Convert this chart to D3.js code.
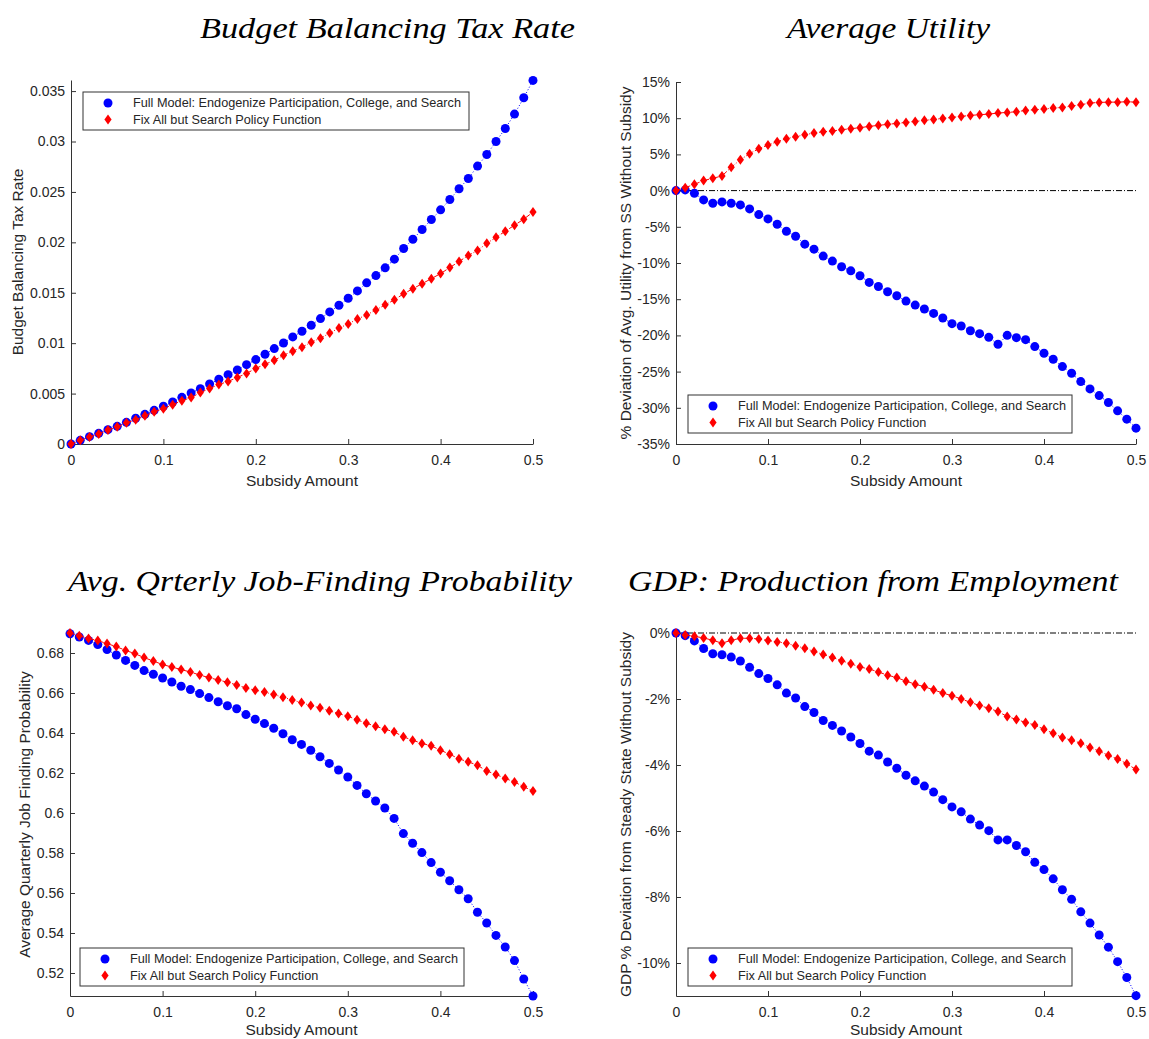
<!DOCTYPE html>
<html>
<head>
<meta charset="utf-8">
<script src="https://cdn.jsdelivr.net/npm/d3@7"></script>
<style>
  body { margin: 0; background: #fff; }
  text { font-family: "Liberation Sans", Arial, Helvetica, sans-serif; fill: #262626; }
  .title { font-family: "Liberation Serif", "DejaVu Serif", serif; font-style: italic; fill: #000; }
</style>
</head>
<body>
<div id="chart"></div>
<script>
var width_chart = 1149,
    height_chart = 1039;

// subsidy amounts (x axis of every panel)
var subsidy = [0, 0.01, 0.02, 0.03, 0.04, 0.05, 0.06, 0.07, 0.08, 0.09,
  0.10, 0.11, 0.12, 0.13, 0.14, 0.15, 0.16, 0.17, 0.18, 0.19,
  0.20, 0.21, 0.22, 0.23, 0.24, 0.25, 0.26, 0.27, 0.28, 0.29,
  0.30, 0.31, 0.32, 0.33, 0.34, 0.35, 0.36, 0.37, 0.38, 0.39,
  0.40, 0.41, 0.42, 0.43, 0.44, 0.45, 0.46, 0.47, 0.48, 0.49, 0.50];

var series_names = ["Full Model: Endogenize Participation, College, and Search",
                    "Fix All but Search Policy Function"];

// Budget balancing tax rate
var tax_full = [0, 0.00036, 0.00073, 0.00106, 0.00142, 0.00175, 0.00215, 0.00255, 0.00294, 0.00334,
  0.00374, 0.00417, 0.00463, 0.00506, 0.00549, 0.00595, 0.00642, 0.00688, 0.00734, 0.00787,
  0.00837, 0.00890, 0.00946, 0.01002, 0.01062, 0.01118, 0.01178, 0.01244, 0.01310, 0.01376,
  0.01446, 0.01518, 0.01598, 0.01670, 0.01747, 0.01833, 0.01939, 0.02031, 0.02127, 0.02226,
  0.02322, 0.02425, 0.02531, 0.02633, 0.02756, 0.02871, 0.03000, 0.03129, 0.03272, 0.03434, 0.03606];
var tax_fix = [0, 0.00036, 0.0007, 0.0010, 0.0014, 0.0017, 0.0021, 0.0024, 0.0028, 0.0032,
  0.0035, 0.0039, 0.0043, 0.0046, 0.0051, 0.0055, 0.0059, 0.0062, 0.0066, 0.0070,
  0.0075, 0.0079, 0.0083, 0.0088, 0.0092, 0.0096, 0.0101, 0.0105, 0.0110, 0.0115,
  0.0119, 0.0124, 0.0128, 0.0133, 0.0138, 0.0143, 0.0149, 0.0154, 0.0159, 0.0164,
  0.0169, 0.0175, 0.0181, 0.0187, 0.0192, 0.0199, 0.0205, 0.0211, 0.0217, 0.0223, 0.0230];

// Average utility, % deviation
var util_full = [0, 0.1, -0.37, -1.29, -1.75, -1.56, -1.75, -1.98, -2.53, -3.31,
  -3.91, -4.64, -5.61, -6.30, -7.40, -8.09, -9.05, -9.74, -10.52, -11.08,
  -11.76, -12.68, -13.24, -13.97, -14.52, -15.26, -15.81, -16.36, -16.96, -17.60,
  -18.38, -18.70, -19.35, -19.76, -20.27, -21.23, -19.99, -20.31, -20.59, -21.55,
  -22.47, -23.30, -24.31, -25.23, -26.38, -27.39, -28.31, -29.27, -30.42, -31.57, -32.81];
var util_fix = [0, 0.41, 0.87, 1.38, 1.70, 2.02, 3.22, 4.27, 5.10, 5.79,
  6.30, 6.76, 7.17, 7.44, 7.72, 7.95, 8.13, 8.23, 8.41, 8.55,
  8.69, 8.87, 9.01, 9.15, 9.28, 9.42, 9.56, 9.70, 9.83, 9.97,
  10.11, 10.25, 10.39, 10.48, 10.57, 10.71, 10.80, 10.89, 11.08, 11.17,
  11.26, 11.40, 11.49, 11.67, 11.86, 12.09, 12.18, 12.22, 12.22, 12.27, 12.22];

// Avg quarterly job finding probability
var jf_full = [0.6896, 0.6880, 0.6863, 0.6842, 0.6817, 0.6790, 0.6763, 0.6738, 0.6712, 0.6694,
  0.6675, 0.6655, 0.6634, 0.6617, 0.6597, 0.6577, 0.6556, 0.6536, 0.6521, 0.6492,
  0.6469, 0.6447, 0.6424, 0.6396, 0.6366, 0.6343, 0.6314, 0.6281, 0.6248, 0.6215,
  0.6180, 0.6138, 0.6096, 0.6060, 0.6025, 0.5973, 0.5897, 0.5849, 0.5802, 0.5752,
  0.5704, 0.5661, 0.5616, 0.5571, 0.5504, 0.5450, 0.5388, 0.5330, 0.5262, 0.5170, 0.5085];
var jf_fix = [0.6900, 0.6886, 0.6873, 0.6862, 0.6847, 0.6832, 0.6813, 0.6797, 0.6777, 0.6760,
  0.6742, 0.6730, 0.6717, 0.6705, 0.6690, 0.6677, 0.6665, 0.6654, 0.6640, 0.6625,
  0.6614, 0.6605, 0.6592, 0.6579, 0.6565, 0.6552, 0.6537, 0.6526, 0.6511, 0.6497,
  0.6484, 0.6466, 0.6449, 0.6434, 0.6419, 0.6406, 0.6381, 0.6364, 0.6348, 0.6336,
  0.6314, 0.6294, 0.6271, 0.6256, 0.6239, 0.6210, 0.6193, 0.6173, 0.6155, 0.6131, 0.6110];

// GDP % deviation
var gdp_full = [0, -0.08, -0.24, -0.47, -0.63, -0.66, -0.73, -0.85, -1.04, -1.23,
  -1.38, -1.57, -1.82, -1.97, -2.23, -2.41, -2.65, -2.80, -2.97, -3.15,
  -3.35, -3.58, -3.70, -3.91, -4.10, -4.31, -4.48, -4.64, -4.82, -5.05,
  -5.27, -5.42, -5.64, -5.82, -5.99, -6.27, -6.27, -6.44, -6.63, -6.95,
  -7.17, -7.45, -7.78, -8.07, -8.45, -8.79, -9.15, -9.52, -9.96, -10.44, -10.99];
var gdp_fix = [0, -0.06, -0.10, -0.15, -0.22, -0.31, -0.22, -0.16, -0.16, -0.18,
  -0.23, -0.27, -0.31, -0.39, -0.46, -0.56, -0.65, -0.74, -0.84, -0.93,
  -1.03, -1.09, -1.18, -1.28, -1.35, -1.46, -1.55, -1.63, -1.72, -1.82,
  -1.90, -2.00, -2.10, -2.20, -2.28, -2.38, -2.53, -2.62, -2.71, -2.79,
  -2.92, -3.04, -3.17, -3.25, -3.34, -3.47, -3.58, -3.71, -3.82, -3.96, -4.14];

// tick labels
var x_ticks = [0, 0.1, 0.2, 0.3, 0.4, 0.5];
var tax_ticks = [0, 0.005, 0.01, 0.015, 0.02, 0.025, 0.03, 0.035];
var util_ticks = [-35, -30, -25, -20, -15, -10, -5, 0, 5, 10, 15];
var jf_ticks = [0.52, 0.54, 0.56, 0.58, 0.6, 0.62, 0.64, 0.66, 0.68];
var gdp_ticks = [-10, -8, -6, -4, -2, 0];

var svg = d3.select("#chart").append("svg")
    .attr("width", width_chart)
    .attr("height", height_chart);

var num_fmt = function(d) { return d === 0 ? "0" : String(+d.toFixed(3)); };
var pct_fmt = function(d) { return d + "%"; };

var panels = [
  { title: "Budget Balancing Tax Rate", tx: 200, tw: 375, ty: 38,
    left: 71, right: 533, top: 80, bottom: 444, ydom: [0, 0.0361],
    full: tax_full, fix: tax_fix, yticks: tax_ticks, yfmt: num_fmt,
    ylabel: "Budget Balancing Tax Rate", ylx: 18, xlab: 42, zero: false,
    leg: { x: 83, y: 92, w: 386, h: 38 } },
  { title: "Average Utility", tx: 787, tw: 203, ty: 38,
    left: 676, right: 1136, top: 82, bottom: 444, ydom: [-35, 15],
    full: util_full, fix: util_fix, yticks: util_ticks, yfmt: pct_fmt,
    ylabel: "% Deviation of Avg. Utility from SS Without Subsidy", ylx: 626, xlab: 42, zero: true,
    leg: { x: 688, y: 395, w: 384, h: 38 } },
  { title: "Avg. Qrterly Job-Finding Probability", tx: 68, tw: 504, ty: 591,
    left: 70, right: 533, top: 633, bottom: 996, ydom: [0.5085, 0.69],
    full: jf_full, fix: jf_fix, yticks: jf_ticks, yfmt: num_fmt,
    ylabel: "Average Quarterly Job Finding Probability", ylx: 25, xlab: 39, zero: false,
    leg: { x: 80, y: 948, w: 384, h: 38 } },
  { title: "GDP: Production from Employment", tx: 628, tw: 490, ty: 591,
    left: 676, right: 1136, top: 633, bottom: 996, ydom: [-11, 0],
    full: gdp_full, fix: gdp_fix, yticks: gdp_ticks, yfmt: pct_fmt,
    ylabel: "GDP % Deviation from Steady State Without Subsidy", ylx: 626, xlab: 39, zero: true,
    leg: { x: 688, y: 948, w: 384, h: 38 } }
];

var diamond = "M0,-5L3.6,0L0,5L-3.6,0Z";

panels.forEach(function(p) {
  var x = d3.scaleLinear().domain([0, 0.5]).range([p.left, p.right]);
  var y = d3.scaleLinear().domain(p.ydom).range([p.bottom, p.top]);
  var g = svg.append("g");

  // title
  g.append("text")
    .attr("class", "title")
    .attr("x", p.tx)
    .attr("y", p.ty)
    .attr("textLength", p.tw)
    .attr("lengthAdjust", "spacingAndGlyphs")
    .style("font-size", "29px")
    .text(p.title);

  // axes (ticks point inward, like matlab)
  var xAxis = g.append("g")
    .attr("transform", "translate(0," + p.bottom + ")")
    .call(d3.axisBottom(x).tickValues(x_ticks).tickSizeInner(-5).tickSizeOuter(0)
      .tickPadding(11).tickFormat(function(d) { return d === 0 ? "0" : String(d); }));
  var yAxis = g.append("g")
    .attr("transform", "translate(" + p.left + ",0)")
    .call(d3.axisLeft(y).tickValues(p.yticks).tickSizeInner(-5).tickSizeOuter(0)
      .tickPadding(6).tickFormat(p.yfmt));
  [xAxis, yAxis].forEach(function(a) {
    a.select(".domain").attr("stroke", "#333").attr("stroke-width", 1);
    a.selectAll(".tick line").attr("stroke", "#333");
    a.selectAll(".tick text").style("font-size", "14px").style("fill", "#262626")
      .style("font-family", "'Liberation Sans', Arial, sans-serif");
  });

  // axis labels
  g.append("text")
    .attr("x", (p.left + p.right) / 2)
    .attr("y", p.bottom + p.xlab)
    .attr("text-anchor", "middle")
    .style("font-size", "15.5px")
    .text("Subsidy Amount");
  g.append("text")
    .attr("transform", "translate(" + p.ylx + "," + ((p.top + p.bottom) / 2) + ") rotate(-90)")
    .attr("text-anchor", "middle")
    .attr("dy", "0.35em")
    .style("font-size", "15.5px")
    .text(p.ylabel);

  // zero reference line
  if (p.zero) {
    g.append("line")
      .attr("x1", x(0)).attr("x2", x(0.5))
      .attr("y1", y(0)).attr("y2", y(0))
      .attr("stroke", "#000")
      .attr("stroke-width", 1)
      .attr("stroke-dasharray", "6,2,1,2");
  }

  var line = d3.line()
    .x(function(d, i) { return x(subsidy[i]); })
    .y(function(d) { return y(d); });

  // full model: blue dotted line with circles
  g.append("path")
    .datum(p.full)
    .attr("d", line)
    .attr("fill", "none")
    .attr("stroke", "#0000ff")
    .attr("stroke-width", 1)
    .attr("stroke-dasharray", "1,2");
  g.selectAll("circle.full")
    .data(p.full)
    .enter().append("circle")
    .attr("class", "full")
    .attr("cx", function(d, i) { return x(subsidy[i]); })
    .attr("cy", function(d) { return y(d); })
    .attr("r", 4.5)
    .style("fill", "#0000ff");

  // fixed search: red dash-dot line with diamonds
  g.append("path")
    .datum(p.fix)
    .attr("d", line)
    .attr("fill", "none")
    .attr("stroke", "#ff0000")
    .attr("stroke-width", 1)
    .attr("stroke-dasharray", "5,2,1,2");
  g.selectAll("path.fix")
    .data(p.fix)
    .enter().append("path")
    .attr("class", "fix")
    .attr("d", diamond)
    .attr("transform", function(d, i) { return "translate(" + x(subsidy[i]) + "," + y(d) + ")"; })
    .style("fill", "#ff0000");

  // legend
  var leg = g.append("g").attr("transform", "translate(" + p.leg.x + "," + p.leg.y + ")");
  leg.append("rect")
    .attr("width", p.leg.w)
    .attr("height", p.leg.h)
    .attr("fill", "#fff")
    .attr("stroke", "#333")
    .attr("stroke-width", 1);
  leg.append("circle")
    .attr("cx", 25).attr("cy", 11).attr("r", 4.5)
    .style("fill", "#0000ff");
  leg.append("path")
    .attr("d", diamond)
    .attr("transform", "translate(25,27.5)")
    .style("fill", "#ff0000");
  leg.selectAll("text.lg")
    .data(series_names)
    .enter().append("text")
    .attr("class", "lg")
    .attr("x", 50)
    .attr("y", function(d, i) { return 11 + i * 16.5; })
    .attr("dy", "0.35em")
    .style("font-size", "12.7px")
    .text(function(d) { return d; });
});
</script>
</body>
</html>
